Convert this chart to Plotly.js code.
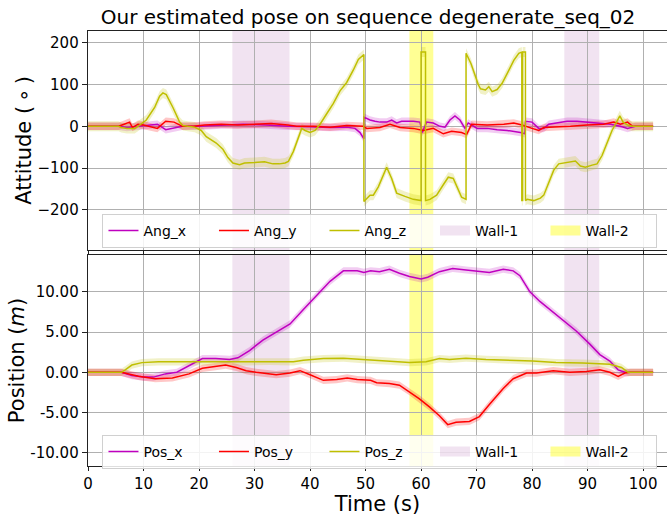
<!DOCTYPE html>
<html><head><meta charset="utf-8">
<script src="https://cdn.plot.ly/plotly-3.0.1.min.js"></script>
<style>html,body{margin:0;padding:0;background:#fff}</style>
</head><body><div id="chart" style="width:667px;height:516px"></div>
<script>
// ---------- data (time in s) ----------
const angXTime=[0,5.5,7,9,11,12.5,14,15,17,20,24,28,32,36,40,43.6,46.6,48.1,49,49.7,49.7,50.8,51.7,52.6,53.8,54.7,55.6,56.5,58.6,59.8,60.2,61,62.2,63.4,64.3,65.2,66.1,67,67.9,68.5,70.1,71.9,73.7,75.5,77.9,78.7,78.8,80,81.2,82.1,83,84.5,86.3,88.1,89.9,91.7,94.1,95.9,97.2,98.1,98.6,101.8];
const angXVal=[0,0,-3,0,3,5,-8,-5,0,0,3,5,3,0,-1,-3,-2,-5,-15,-30,22,15,12,10,10,15,8,12,12,10,-15,10,8,0,-2,15,25,15,-5,8,-5,-5,-8,-10,-15,-18,12,10,-5,-5,5,8,12,12,10,8,5,0,-5,-2,0,0];

const angYTime=[0,5.5,6.5,7.5,8,9,10,11,12.5,14,15.5,17,19,21,24,27,30,33,36,37.6,40.6,43.6,46.6,49.6,50.2,52.6,54.4,56.2,58.6,60.4,62.2,64,65.5,67.3,68.2,69.1,71.9,74.9,76.7,78.2,80,81.2,82.1,84.5,86.9,89.9,92.9,94.7,95.9,97.2,98.1,101.8];
const angYVal=[0,0,5,10,-3,5,3,0,-5,12,10,0,0,3,5,3,5,7,3,0,0,-2,2,0,-5,-3,5,-3,-5,-10,-5,-18,-12,-15,-20,5,3,5,8,3,-5,-10,-3,-2,0,3,5,10,5,10,0,0];

const angZTime=[0,5.5,6,7,8.4,9,10.5,12,12.9,13.5,14.1,15.3,16.5,17.1,18,19.2,20.4,21.3,23.1,24.3,25.2,26.1,27.3,28.2,30,31.8,33.3,34.5,35.5,36.1,37,37.9,38.5,39.1,40,40.9,41.8,43,44.2,45.4,46.6,47.8,48.7,49.7,49.7,50.8,51.4,52.3,53.8,54.7,55.6,57.1,58.6,60.0,60.0,60.8,60.8,61.6,62.8,64,64.9,65.8,66.7,67.3,68.1,68.1,69,69.7,70.3,70.7,71.6,72.2,72.8,73.7,74.6,75.8,76.7,77.6,78.15,78.15,78.3,78.3,78.8,78.8,79.1,80.3,81.5,82.1,83,83.9,84.8,85.7,86.9,87.8,88.7,89.6,90.8,91.7,92.6,93.5,94.4,95.4,95.8,96.4,97.2,98,101.8];
const angZVal=[0,0,-3,-5,-5,0,15,45,72,80,76,45,10,2,0,-2,-10,-25,-40,-55,-75,-88,-92,-88,-87,-85,-90,-90,-88,-84,-60,-25,-5,-10,-15,-10,5,30,55,85,105,135,160,172,-180,-165,-165,-145,-98,-125,-160,-168,-175,-178,178,178,-178,-175,-165,-140,-122,-125,-150,-170,-175,175,150,120,100,90,87,95,83,88,103,134,158,175,178,-178,-178,178,178,-178,-175,-178,-172,-165,-135,-105,-90,-88,-85,-83,-95,-98,-93,-90,-70,-40,-10,15,25,10,3,0,0];

const posXTime=[0,6,7.9,10,11.8,13.9,16,18.2,20.6,23,25.5,27,29.1,31.5,33.9,36.4,38.8,41.2,43.6,46,48.5,49.7,50.9,52.5,54.3,56.1,57.9,60,61.2,63.3,65.7,68.1,70,72.3,74.8,76.6,77.8,79.6,81.4,83.2,85.6,88,90.4,92.2,94,95.5,96.7,101.8];
const posXVal=[0,0,-0.4,-0.6,-0.6,-0.2,0,0.8,1.7,1.7,1.6,1.8,2.7,4.0,5.0,6.0,7.8,9.6,11.3,12.6,12.6,12.4,12.6,12.5,12.8,12.3,11.9,11.6,11.8,12.5,12.9,12.7,12.6,12.4,12.8,12.6,12.0,10.0,8.8,7.8,6.5,5.1,3.5,2.2,1.4,0.3,0,0];

const posYTime=[0,6,9.1,12.1,15.2,18.2,20.6,23,24.8,26.7,28.5,30.3,33.9,36.4,38.2,40,42.4,44.8,46.7,48.5,50.9,52,54.3,56.1,57.9,59.7,61.5,63.3,64.8,66.3,68.7,70.5,72.3,74.8,76.6,79,80.8,83.8,86.8,89.8,92.2,94,95.5,96.7,97.7,101.8];
const posYVal=[0,0,-0.5,-0.8,-0.7,-0.2,0.5,0.7,0.9,0.6,0.2,0,-0.3,-0.1,0.2,-0.3,-1.0,-0.9,-0.7,-0.9,-1.0,-1.3,-1.4,-1.6,-2.4,-3.3,-4.3,-5.4,-6.5,-6.2,-6.1,-5.5,-4.0,-2.0,-0.8,-0.1,-0.1,0.2,0,0.1,0.3,0,-0.5,-0.1,0,0];

const posZTime=[0,6,6.7,7.9,9.7,12.7,20,28.5,32.7,37,38.8,42.4,46,50.7,54.3,57.9,60.9,63.3,65.1,68.1,71.7,75.9,80.1,84.3,89.1,94,96.1,97.3,101.8];
const posZVal=[0,0,0.3,0.9,1.2,1.3,1.3,1.3,1.35,1.3,1.5,1.7,1.75,1.5,1.4,1.2,1.3,1.7,1.6,1.75,1.6,1.5,1.4,1.2,1.15,1.0,0.6,0,0];

const wall1Start=[26.0,85.8], wall1End=[36.3,92.1];
const wall2Start=[57.9], wall2End=[62.2];

const xTicks=[0,10,20,30,40,50,60,70,80,90,100];
const angTicks=[-200,-100,0,100,200];
const posTicks=[-10,-5,0,5,10];
const posTickText=['-10.00','-5.00','0.00','5.00','10.00'];

// uncertainty half-widths
const angBandX=9, angBandY=9, angBandZ=12;
const posBandX=0.45, posBandY=0.45, posBandZ=0.45;

// ---------- styling ----------
const MAG='#bf00bf', RED='#ff0000', OLV='#bfbf00';
const W1='rgba(128,0,128,0.11)', W2='rgba(255,255,0,0.42)';
const FONT='DejaVu Sans';

function band(t,v,w,color,xa,ya){
  const x=t.concat(t.slice().reverse());
  const up=v.map(a=>a+w), lo=v.map(a=>a-w).reverse();
  return {x:x,y:up.concat(lo),type:'scatter',mode:'lines',fill:'toself',fillcolor:color,
    line:{width:0},hoverinfo:'skip',showlegend:false,xaxis:xa,yaxis:ya};
}
function line(t,v,name,color,xa,ya,lg){
  return {x:t,y:v,type:'scatter',mode:'lines',name:name,line:{color:color,width:1.5},
    xaxis:xa,yaxis:ya,legend:lg};
}
function wallLegend(name,color,xa,ya,lg){
  return {x:[null],y:[null],type:'scatter',mode:'lines',name:name,line:{color:color,width:13},
    xaxis:xa,yaxis:ya,legend:lg};
}

const data=[
  band(angXTime,angXVal,angBandX,'rgba(191,0,191,0.2)','x','y'),
  band(angYTime,angYVal,angBandY,'rgba(255,0,0,0.22)','x','y'),
  band(angZTime,angZVal,angBandZ,'rgba(191,191,0,0.22)','x','y'),
  band(posXTime,posXVal,posBandX,'rgba(191,0,191,0.2)','x2','y2'),
  band(posYTime,posYVal,posBandY,'rgba(255,0,0,0.22)','x2','y2'),
  band(posZTime,posZVal,posBandZ,'rgba(191,191,0,0.22)','x2','y2'),
  line(angXTime,angXVal,'Ang_x',MAG,'x','y','legend'),
  line(angYTime,angYVal,'Ang_y',RED,'x','y','legend'),
  line(angZTime,angZVal,'Ang_z',OLV,'x','y','legend'),
  wallLegend('Wall-1',W1,'x','y','legend'),
  wallLegend('Wall-2',W2,'x','y','legend'),
  line(posXTime,posXVal,'Pos_x',MAG,'x2','y2','legend2'),
  line(posYTime,posYVal,'Pos_y',RED,'x2','y2','legend2'),
  line(posZTime,posZVal,'Pos_z',OLV,'x2','y2','legend2'),
  wallLegend('Wall-1',W1,'x2','y2','legend2'),
  wallLegend('Wall-2',W2,'x2','y2','legend2')
];

const shapes=[];
function addWalls(starts,ends,color){
  starts.forEach((s,i)=>{
    ['y','y2'].forEach((ya,k)=>{
      shapes.push({type:'rect',xref:k?'x2':'x',yref:ya+' domain',x0:s,x1:ends[i],y0:0,y1:1,
        fillcolor:color,line:{width:0},layer:'below'});
    });
  });
}
addWalls(wall1Start,wall1End,W1);
addWalls(wall2Start,wall2End,W2);

const axX={range:[0,104.3],tickvals:xTicks,showgrid:true,gridcolor:'#b0b0b0',gridwidth:1,
  showline:true,linecolor:'#222',linewidth:1.3,mirror:true,ticks:'outside',ticklen:4,tickcolor:'#222',
  zeroline:false,tickfont:{family:FONT,size:15,color:'#000'}};
const axY={showgrid:true,gridcolor:'#b0b0b0',gridwidth:1,showline:true,linecolor:'#222',linewidth:1.3,
  ticks:'outside',ticklen:5,tickcolor:'#222',zeroline:false,tickfont:{family:FONT,size:15,color:'#000'}};
const legendBase={orientation:'h',xanchor:'left',yanchor:'middle',x:0.025,
  bgcolor:'rgba(255,255,255,0.85)',bordercolor:'#d0d0d0',borderwidth:1,
  font:{family:FONT,size:14,color:'#000'},entrywidth:65.5,tracegroupgap:0};

const layout={
  width:667,height:516,
  margin:{l:88,r:0,t:31,b:50},
  paper_bgcolor:'#fff',plot_bgcolor:'#fff',
  font:{family:FONT,color:'#000'},
  title:{text:'Our estimated pose on sequence degenerate_seq_02',font:{family:FONT,size:20,color:'#000'},
    x:0.4836,xref:'paper',xanchor:'center',y:1-17/516,yref:'container',yanchor:'middle'},
  xaxis:Object.assign({},axX,{anchor:'y',showticklabels:false}),
  yaxis:Object.assign({},axY,{domain:[0.4966,1],range:[-296.3,228.3],tickvals:angTicks,
    title:{text:'Attitude (\u2009\u2218\u2009)',font:{family:FONT,size:21,color:'#000'},standoff:0}}),
  xaxis2:Object.assign({},axX,{anchor:'y2',matches:'x',
    title:{text:'Time (s)',font:{family:FONT,size:21,color:'#000'},standoff:6}}),
  yaxis2:Object.assign({},axY,{domain:[0,0.4851],range:[-11.64,14.57],tickvals:posTicks,ticktext:posTickText,
    title:{text:'Position (<i>m</i>)',font:{family:FONT,size:21,color:'#000'},standoff:0}}),
  legend:Object.assign({},legendBase,{y:0.5402}),
  legend2:Object.assign({},legendBase,{y:0.0322}),
  shapes:shapes,
  showlegend:true
};

Plotly.newPlot('chart',data,layout,{displayModeBar:false,staticPlot:true});
</script></body></html>
